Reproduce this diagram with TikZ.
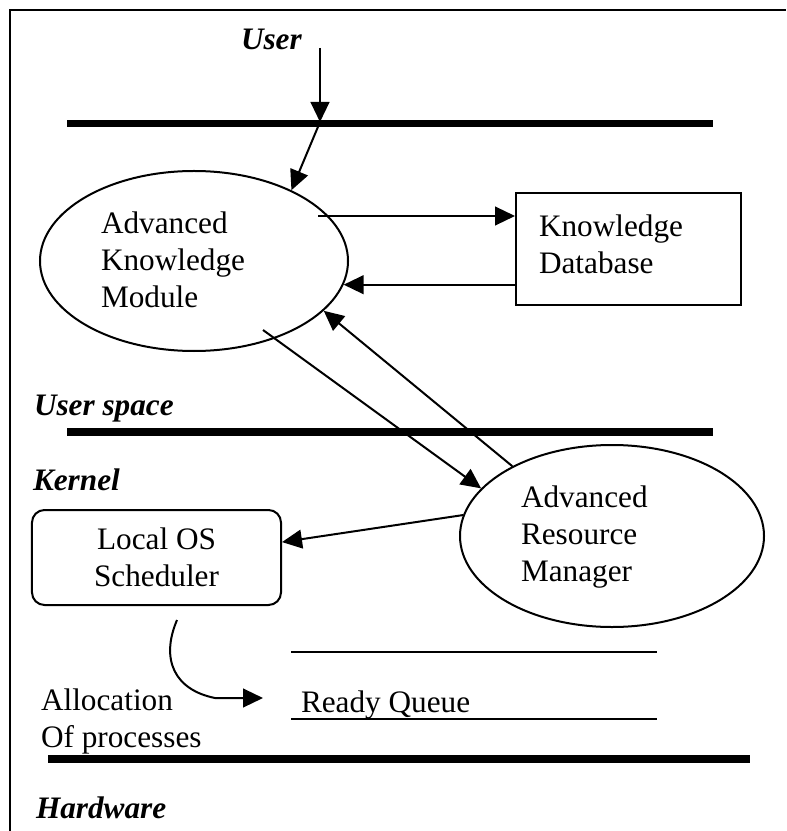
\documentclass[tikz,border=0pt]{standalone}
\usepackage{fontspec}
\setmainfont{Liberation Serif}
\usetikzlibrary{arrows.meta, shapes.geometric}

\begin{document}
\begin{tikzpicture}[x=0.4pt, y=-0.4pt, line width=0.8pt, >={Triangle[length=8pt,width=7.5pt]},
    txt/.style={font=\fontsize{12.5}{14.8}\selectfont, inner sep=0pt, align=left},
    layer/.style={font=\fontsize{12.5}{15}\selectfont\bfseries\itshape, inner sep=0pt},
    bar/.style={line width=3pt}]
        \useasboundingbox (0,0) rectangle (786,831);

        % frame (top and left)
        \draw (10,831) -- (10,10) -- (786,10);

        % layer names
        \node[layer, anchor=base west] (user) at (240,50) {User};
        \node[layer, anchor=base west] (userspace) at (33,415) {User space};
        \node[layer, anchor=base west] (kernel) at (32,490) {Kernel};
        \node[layer, anchor=base west] (hardware) at (35,818) {Hardware};

        % layer boundaries
        \draw[bar] (67,123.5) -- (713,123.5);
        \draw[bar] (67,432) -- (713,432);
        \draw[bar] (48,759) -- (750,759);

        % modules
        \node[ellipse, draw, minimum width=123.2pt, minimum height=72pt, inner sep=0pt] (akm) at (194,261) {};
        \node[txt, anchor=west] (akmtext) at (100,260) {Advanced\\Knowledge\\Module};
        \node[draw, minimum width=90pt, minimum height=44.8pt, inner sep=0pt] (kd) at (628.5,249) {};
        \node[txt, anchor=west] (kdtext) at (538,244) {Knowledge\\Database};
        \node[ellipse, draw, minimum width=121.6pt, minimum height=72.8pt, inner sep=0pt] (arm) at (612,536) {};
        \node[txt, anchor=west] (armtext) at (520,537) {Advanced\\Resource\\Manager};
        \node[draw, rounded corners=5pt, minimum width=99.6pt, minimum height=38pt, txt, align=center] (los) at (156.5,557.5) {Local OS\\Scheduler};

        % ready queue
        \draw (291,652) -- (657,652);
        \draw (291,719) -- (657,719);
        \node[txt, anchor=base west] (rq) at (300,712) {Ready Queue};
        \node[txt, anchor=west] (alloc) at (40,721) {Allocation\\Of processes};

        % connectors
        \coordinate (userin) at (320,48);
        \coordinate (userbar) at (320,122);
        \draw[->] (userin) -- (userbar);
        \draw[->] (userbar) -- (akm.36);
        \coordinate (akmout) at (318,216);
        \draw[->] (akmout) -- (kd.west |- akmout);
        \draw[->] (kd.west |- akm.-9) -- (akm.-9);
        \coordinate (akmdown) at (263,330);
        \draw[->] (akmdown) -- (arm.160);
        \draw[->] (arm.145) -- (akm.-21);
        \draw[->] (arm.172) -- (los.7);
        \coordinate (allocfrom) at (177,620);
        \coordinate (allocto) at (263,698);
        \draw[->] (allocfrom) .. controls (160,660) and (175,690) .. (215,698) -- (allocto);
    \end{tikzpicture}
\end{document}
